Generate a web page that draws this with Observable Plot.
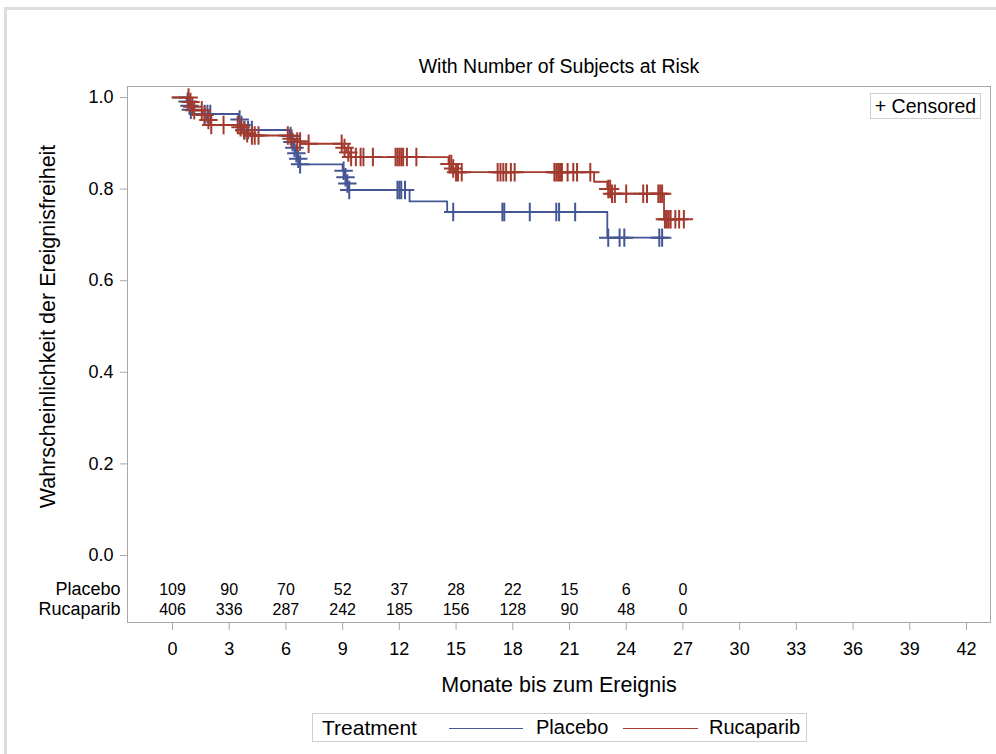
<!DOCTYPE html>
<html>
<head>
<meta charset="utf-8">
<script src="https://cdn.jsdelivr.net/npm/d3@7"></script>
<script src="https://cdn.jsdelivr.net/npm/@observablehq/plot@0.6"></script>
<style>
  body { margin: 0; background: #fff; font-family: "Liberation Sans", Arial, sans-serif; color: #000; }
  #wrap { position: relative; width: 996px; height: 754px; overflow: hidden; background: #fff; }
  #chart { position: absolute; left: 0; top: 0; }
  #outer { position: absolute; left: 4px; top: 7px; width: 1100px; height: 1000px;
           border-left: 3px solid #dcdcdc; border-top: 3px solid #dcdcdc; pointer-events: none; }
  #censored { position: absolute; left: 870px; top: 93px; width: 111px; height: 26px; box-sizing: border-box;
              border: 1px solid #cfcfcf; font-size: 19.5px; line-height: 24px; text-align: center; background: #fff; white-space: nowrap; }
  #legend { position: absolute; left: 312px; top: 713px; width: 495px; height: 29px; box-sizing: border-box;
            border: 1px solid #cfcfcf; font-size: 20px; }
  #legend span { position: absolute; top: 2px; white-space: nowrap; }
  #legend i { position: absolute; top: 14px; height: 0; border-top: 1px solid; }
</style>
</head>
<body>
<div id="wrap">
  <div id="chart"></div>
  <div id="outer"></div>
  <div id="censored">+ Censored</div>
  <div id="legend"></div>
</div>
<script>
// ---- data ----
const groups = ["Placebo", "Rucaparib"];
const groupColors = ["#445694", "#A23A2E"];

const title = "With Number of Subjects at Risk";
const xLabel = "Monate bis zum Ereignis";
const yLabel = "Wahrscheinlichkeit der Ereignisfreiheit";
const legendTitle = "Treatment";
const xTicks = [0, 3, 6, 9, 12, 15, 18, 21, 24, 27, 30, 33, 36, 39, 42];
const yTicks = [0, 0.2, 0.4, 0.6, 0.8, 1.0];

// Kaplan-Meier steps (time in months, survival after step)
const placeboTimes = [0, 0.75, 0.85, 0.95, 1.0, 3.5, 3.6, 3.7, 6.2, 6.3, 6.4, 6.5, 6.6, 6.7, 9.0, 9.1, 9.2, 9.3, 12.54, 14.53, 23.0, 26.0];
const placeboSurv  = [1, 0.991, 0.982, 0.973, 0.964, 0.952, 0.940, 0.929, 0.916, 0.903, 0.890, 0.878, 0.866, 0.854, 0.840, 0.826, 0.812, 0.798, 0.773, 0.750, 0.694, 0.694];
const placeboCensor = [0.8, 0.9, 0.97, 1.7, 1.85, 2.0, 3.55, 3.65, 3.8, 4.0, 4.2, 6.25, 6.35, 6.45, 6.55, 6.65, 6.75, 9.05, 9.15, 9.25, 9.35,
  11.9, 12.0, 12.1, 12.3, 14.85, 17.45, 17.55, 18.9, 20.3, 20.45, 21.3, 23.05, 23.65, 23.9, 25.75, 25.9];

const rucaTimes = [0, 0.9, 1.0, 1.1, 1.6, 1.8, 2.0, 3.5, 3.7, 3.9, 4.1, 6.2, 6.5, 6.8, 9.0, 9.2, 9.4, 14.6, 14.8, 14.9, 22.3, 23.0, 23.2, 26.0, 27.1];
const rucaSurv  = [1, 0.99, 0.98, 0.972, 0.962, 0.951, 0.94, 0.935, 0.928, 0.922, 0.917, 0.910, 0.904, 0.899, 0.89, 0.88, 0.87, 0.855, 0.845, 0.837, 0.816, 0.80, 0.79, 0.734, 0.734];
const rucaCensor = [0.85, 0.95, 1.05, 1.15, 1.55, 1.7, 1.9, 2.05, 2.7, 3.45, 3.6, 3.8, 3.95, 4.2, 4.35, 4.55, 6.1, 6.3, 6.6, 6.75, 7.2,
  8.95, 9.1, 9.3, 9.45, 9.7, 9.95, 10.1, 10.6, 11.8, 11.9, 12.0, 12.1, 12.2, 12.4, 12.9, 14.65, 14.75, 14.85, 15.0, 15.1, 15.3,
  17.2, 17.35, 17.5, 17.65, 17.9, 18.1, 20.2, 20.3, 20.4, 20.5, 20.6, 20.9, 21.2, 21.4, 22.1, 23.05, 23.15, 23.25, 23.4, 24.0,
  24.9, 25.1, 25.7, 25.8, 25.9, 26.05, 26.15, 26.25, 26.35, 26.6, 26.8, 27.05];

// number at risk
const riskTimes = [0, 3, 6, 9, 12, 15, 18, 21, 24, 27];
const riskPlacebo = [109, 90, 70, 52, 37, 28, 22, 15, 6, 0];
const riskRucaparib = [406, 336, 287, 242, 185, 156, 128, 90, 48, 0];

const yLabelCenter = 0.5;

// ---- build tables ----
function survAt(times, surv, t) {
  let s = surv[0];
  for (let i = 0; i < times.length; i++) if (times[i] <= t) s = surv[i];
  return s;
}
const steps = [
  ...placeboTimes.map((t, i) => ({group: "Placebo", t, s: placeboSurv[i]})),
  ...rucaTimes.map((t, i) => ({group: "Rucaparib", t, s: rucaSurv[i]}))
];
const censors = [
  ...placeboCensor.map(t => ({group: "Placebo", t, s: survAt(placeboTimes, placeboSurv, t)})),
  ...rucaCensor.map(t => ({group: "Rucaparib", t, s: survAt(rucaTimes, rucaSurv, t)}))
];
const riskP = riskTimes.map((t, i) => ({t, n: riskPlacebo[i]}));
const riskR = riskTimes.map((t, i) => ({t, n: riskRucaparib[i]}));

const font = '"Liberation Sans", Arial, sans-serif';
const gray = "#a8a8a8";

const chart = Plot.plot({
  width: 996,
  height: 700,
  marginLeft: 127,
  marginRight: 6,
  marginTop: 86,
  marginBottom: 78,
  x: {domain: [-2.38, 43.27]},
  y: {domain: [-0.1463, 1.024]},
  color: {domain: groups, range: groupColors},
  style: {fontFamily: font, fontSize: "18px", color: "#000", background: "transparent"},
  marks: [
    Plot.frame({stroke: gray}),
    Plot.axisY({ticks: yTicks, tickFormat: d3.format(".1f"), tickSize: 7, tickPadding: 7, label: null,
                stroke: gray, fill: "#000", fontSize: 18}),
    Plot.axisX({ticks: xTicks, tickSize: 8, tickPadding: 12, label: null,
                stroke: gray, fill: "#000", fontSize: 18}),
    Plot.line(steps, {x: "t", y: "s", z: "group", stroke: "group", curve: "step-after", strokeWidth: 1.8}),
    Plot.dot(censors, {x: "t", y: "s", stroke: "group", symbol: "plus", r: 6, strokeWidth: 2}),
    Plot.text(riskP, {x: "t", text: "n", frameAnchor: "bottom", dy: -28, fontSize: 16, fill: "#000"}),
    Plot.text(riskR, {x: "t", text: "n", frameAnchor: "bottom", dy: -8, fontSize: 16, fill: "#000"}),
    Plot.text([groups[0]], {frameAnchor: "bottom-left", dx: -7, dy: -28, textAnchor: "end", fontSize: 18, fill: "#000"}),
    Plot.text([groups[1]], {frameAnchor: "bottom-left", dx: -7, dy: -8, textAnchor: "end", fontSize: 18, fill: "#000"}),
    Plot.text([title], {frameAnchor: "top", dy: -27, fontSize: 19.5, fill: "#000"}),
    Plot.text([xLabel], {frameAnchor: "bottom", dy: 69, fontSize: 21.5, fill: "#000"}),
    Plot.text([yLabel], {frameAnchor: "left", y: () => yLabelCenter, dx: -79, rotate: -90, textAnchor: "middle", fontSize: 21.5, fill: "#000"})
  ]
});
document.getElementById("chart").appendChild(chart);

// legend
const legend = document.getElementById("legend");
const items = [
  {html: legendTitle, left: 9, size: 21},
  {line: groupColors[0], left: 136, width: 74},
  {html: groups[0], left: 223},
  {line: groupColors[1], left: 310, width: 75},
  {html: groups[1], left: 396}
];
for (const it of items) {
  if (it.line) {
    const el = document.createElement("i");
    el.style.left = it.left + "px"; el.style.width = it.width + "px"; el.style.borderColor = it.line;
    legend.appendChild(el);
  } else {
    const el = document.createElement("span");
    el.textContent = it.html; el.style.left = it.left + "px";
    if (it.size) el.style.fontSize = it.size + "px";
    legend.appendChild(el);
  }
}
</script>
</body>
</html>
